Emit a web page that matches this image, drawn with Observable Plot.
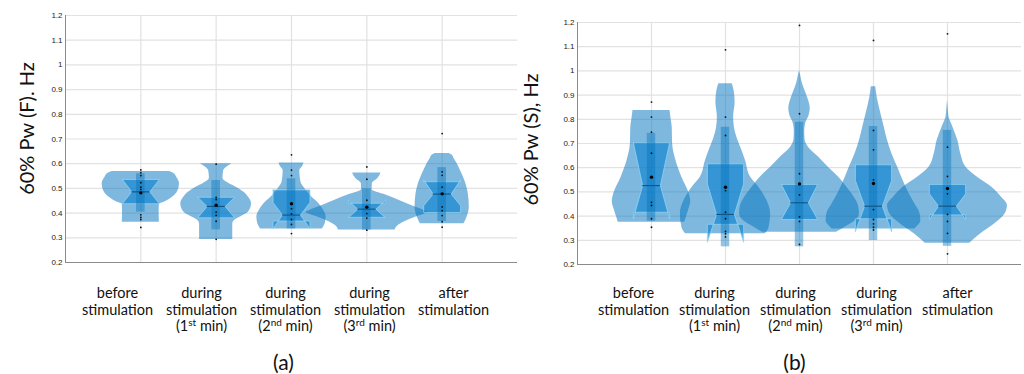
<!DOCTYPE html>
<html><head><meta charset="utf-8">
<script src="https://cdn.jsdelivr.net/npm/d3@7"></script>
<script src="https://cdn.jsdelivr.net/npm/@observablehq/plot@0.6"></script>
<style>
html,body{margin:0;padding:0;background:#fff}
body{width:1024px;height:374px;overflow:hidden;position:relative}
.p{position:absolute}
.p svg{overflow:visible}
</style></head><body>
<div id="pa" class="p" style="left:0;top:0"></div>
<div id="pb" class="p" style="left:512px;top:0"></div>
<div id="la" class="p" style="left:0;top:270px"></div>
<div id="lb" class="p" style="left:512px;top:270px"></div>
<script>
// ---------- data ----------
const categories = ["before\nstimulation", "during\nstimulation\n(1st min)", "during\nstimulation\n(2nd min)", "during\nstimulation\n(3rd min)", "after\nstimulation"];
const yTicks = [0.2, 0.3, 0.4, 0.5, 0.6, 0.7, 0.8, 0.9, 1, 1.1, 1.2];
const panelNames = ["(a)", "(b)"];
const yLabels = ["60% Pw (F). Hz", "60% Pw (S), Hz"];

// violin outlines: [value, half-density] per group, panel (a)
const violinA = [
  [[0.568,0.38],[0.56,0.44],[0.545,0.475],[0.519,0.513],[0.485,0.486],[0.464,0.42],[0.444,0.31],[0.436,0.245],[0.40,0.243],[0.363,0.246]],
  [[0.6,0.21],[0.586,0.14],[0.572,0.1],[0.54,0.09],[0.52,0.17],[0.505,0.265],[0.484,0.37],[0.464,0.43],[0.438,0.47],[0.404,0.43],[0.385,0.33],[0.372,0.25],[0.355,0.22],[0.293,0.22]],
  [[0.603,0.166],[0.59,0.15],[0.572,0.11],[0.527,0.124],[0.494,0.19],[0.465,0.27],[0.438,0.365],[0.41,0.43],[0.385,0.46],[0.36,0.45],[0.336,0.41]],
  [[0.562,0.188],[0.55,0.17],[0.539,0.144],[0.519,0.073],[0.495,0.07],[0.475,0.235],[0.45,0.44],[0.43,0.6],[0.41,0.77],[0.403,0.81],[0.395,0.76],[0.38,0.62],[0.36,0.47],[0.345,0.40],[0.332,0.376]],
  [[0.641,0.09],[0.635,0.13],[0.62,0.16],[0.6,0.2],[0.572,0.243],[0.532,0.30],[0.478,0.347],[0.424,0.36],[0.383,0.33],[0.357,0.29]]
];
// panel (b)
const violinB = [
  [[0.836,0.25],[0.8,0.265],[0.767,0.28],[0.7,0.285],[0.63,0.33],[0.561,0.41],[0.492,0.51],[0.46,0.53],[0.423,0.5],[0.395,0.47],[0.375,0.45]],
  [[0.947,0.09],[0.92,0.115],[0.87,0.13],[0.81,0.11],[0.767,0.12],[0.72,0.16],[0.68,0.21],[0.63,0.27],[0.561,0.34],[0.519,0.45],[0.464,0.56],[0.41,0.61],[0.354,0.59],[0.327,0.54]],
  [[1.002,0.0],[0.975,0.02],[0.947,0.04],[0.91,0.085],[0.87,0.13],[0.845,0.145],[0.816,0.13],[0.785,0.085],[0.75,0.07],[0.715,0.075],[0.685,0.12],[0.643,0.26],[0.602,0.39],[0.561,0.53],[0.519,0.64],[0.478,0.74],[0.44,0.8],[0.41,0.81],[0.38,0.75],[0.355,0.62],[0.333,0.5]],
  [[0.935,0.03],[0.89,0.05],[0.823,0.1],[0.767,0.146],[0.712,0.19],[0.657,0.25],[0.6,0.33],[0.547,0.4],[0.5,0.47],[0.45,0.56],[0.41,0.63],[0.38,0.64],[0.36,0.6],[0.347,0.56]],
  [[0.878,0.0],[0.84,0.01],[0.809,0.02],[0.767,0.074],[0.712,0.14],[0.657,0.18],[0.602,0.25],[0.561,0.405],[0.519,0.6],[0.478,0.73],[0.444,0.81],[0.41,0.78],[0.368,0.64],[0.327,0.45],[0.288,0.3]]
];

// box statistics
const q3A = [0.536, 0.464, 0.494, 0.44, 0.527];
const medA = [0.486, 0.427, 0.392, 0.416, 0.477];
const q1A = [0.438, 0.381, 0.368, 0.383, 0.402];
const notchHiA = [0.536, 0.464, 0.443, 0.451, 0.535];
const notchLoA = [0.438, 0.381, 0.337, 0.381, 0.43];
const whiskHiA = [0.559, 0.532, 0.539, 0.498, 0.584];
const whiskLoA = [0.404, 0.332, 0.336, 0.331, 0.366];
const meanA = [0.482, 0.432, 0.438, 0.424, 0.478];
const pointsA = [
  [0.575, 0.563, 0.552, 0.523, 0.505, 0.496, 0.393, 0.383, 0.374, 0.342],
  [0.598, 0.464, 0.455, 0.404, 0.391, 0.367, 0.294],
  [0.636, 0.574, 0.552, 0.418, 0.397, 0.374, 0.354, 0.317],
  [0.587, 0.537, 0.452, 0.398, 0.38, 0.331],
  [0.722, 0.567, 0.553, 0.505, 0.425, 0.41, 0.39, 0.365, 0.343]
];

const q3B = [0.703, 0.616, 0.531, 0.612, 0.531];
const medB = [0.526, 0.407, 0.455, 0.441, 0.441];
const q1B = [0.416, 0.366, 0.386, 0.389, 0.405];
const notchHiB = [0.703, 0.533, 0.531, 0.547, 0.492];
const notchLoB = [0.389, 0.292, 0.386, 0.335, 0.386];
const whiskHiB = [0.742, 0.767, 0.788, 0.77, 0.754];
const whiskLoB = [0.379, 0.273, 0.273, 0.299, 0.275];
const meanB = [0.561, 0.519, 0.533, 0.535, 0.514];
const pointsB = [
  [0.871, 0.809, 0.747, 0.66, 0.457, 0.444, 0.389, 0.354],
  [1.087, 0.809, 0.733, 0.505, 0.416, 0.389, 0.337, 0.327, 0.314],
  [1.188, 0.823, 0.575, 0.488, 0.397, 0.378, 0.283],
  [1.126, 0.754, 0.674, 0.55, 0.427, 0.386, 0.368, 0.354, 0.343],
  [1.153, 0.685, 0.564, 0.492, 0.407, 0.378, 0.329, 0.244]
];

// ---------- drawing ----------
const BOX_W = 0.245, NOTCH_W = 0.12, BAR_W = 0.057;
const blue = "#0072BD";

function panel(d) {
  const idx = d3.range(categories.length);
  const vRows = d.violin.flatMap((prof, i) =>
    prof.map(([v, hw]) => ({g: i + 1, v, hw})).sort((a, b) => a.v - b.v));
  const boxRows = idx.flatMap(i => {
    const g = i + 1, w = BOX_W, n = NOTCH_W;
    const pts = [
      [-w, d.q3[i]], [-w, d.nHi[i]], [-n, d.med[i]], [-w, d.nLo[i]], [-w, d.q1[i]],
      [w, d.q1[i]], [w, d.nLo[i]], [n, d.med[i]], [w, d.nHi[i]], [w, d.q3[i]], [-w, d.q3[i]]
    ];
    return pts.map(([dx, y]) => ({g, x: g + dx, y}));
  });
  const ptRows = d.points.flatMap((arr, i) => arr.map(v => ({g: i + 1, v})));
  return Plot.plot({
    width: d.width, height: 270,
    marginLeft: 65, marginRight: 0, marginTop: d.top, marginBottom: d.bottom,
    style: {background: "transparent", overflow: "visible"},
    x: {domain: [0, 6], axis: null},
    y: {domain: [0.2, 1.2], axis: null},
    marks: [
      Plot.ruleY(yTicks, {stroke: "#e2e2e2", strokeWidth: 1.2}),
      Plot.ruleX(idx.map(i => i + 1), {stroke: "#e2e2e2", strokeWidth: 1.2}),
      Plot.ruleY([0.2], {stroke: "#8a8a8a", strokeWidth: 1}),
      Plot.ruleX([0], {stroke: "#8a8a8a", strokeWidth: 1}),
      Plot.areaX(vRows, {y: "v", x1: r => r.g - r.hw, x2: r => r.g + r.hw, z: "g",
        fill: blue, fillOpacity: 0.5, curve: "monotone-y"}),
      Plot.line(boxRows, {x: "x", y: "y", z: "g", fill: "#0a7fcf", fillOpacity: 0.62,
        stroke: "#8fd8f8", strokeWidth: 0.8, strokeOpacity: 0.9, curve: "linear"}),
      Plot.rect(idx, {x1: i => i + 1 - BAR_W, x2: i => i + 1 + BAR_W,
        y1: i => d.wLo[i], y2: i => d.wHi[i], fill: blue, fillOpacity: 0.42}),
      Plot.ruleY(idx, {y: i => d.med[i], x1: i => i + 1 - NOTCH_W, x2: i => i + 1 + NOTCH_W,
        stroke: "#0b4a78", strokeWidth: 1.1, strokeOpacity: 0.85}),
      Plot.dot(ptRows, {x: "g", y: "v", r: 0.9, fill: "#111", stroke: null}),
      Plot.dot(idx, {x: i => i + 1, y: i => d.mean[i], r: 1.7, fill: "#000", stroke: null}),
      Plot.axisY(yTicks, {tickSize: 0, tickPadding: 3, fontSize: 8, fill: "#222",
        fontFamily: "Liberation Sans, Arial, sans-serif", label: null,
        tickFormat: v => String(+v.toFixed(1))}),
      Plot.text([d.ylabel], {frameAnchor: "left", rotate: -90, dx: d.ldx, dy: d.ldy,
        textAnchor: "middle", lineAnchor: "middle",
        fontSize: 20, fontFamily: "Lato, sans-serif", fill: "#111"})
    ]
  });
}

function labels(d) {
  const svg = Plot.plot({
    width: d.width, height: 104,
    marginLeft: d.ml, marginRight: 0, marginTop: 15, marginBottom: 0,
    style: {background: "transparent", overflow: "visible"},
    x: {type: "point", domain: categories, range: d.range, padding: 0, align: 0.5, axis: null},
    marks: [
      Plot.text(categories, {x: c => c, frameAnchor: "top", lineAnchor: "top",
        lineHeight: 1.17, fontSize: 14.5, fontFamily: "Lato, sans-serif", fill: "#111"}),
      Plot.text([d.name], {frameAnchor: "top", lineAnchor: "top", dy: 70,
        fontSize: 21, fontFamily: "Lato, sans-serif", fill: "#111"})
    ]
  });
  // superscript ordinal suffixes
  svg.querySelectorAll("tspan").forEach(t => {
    const m = t.textContent.match(/^\((\d)(st|nd|rd) min\)$/);
    if (!m) return;
    t.textContent = "";
    t.appendChild(document.createTextNode("(" + m[1]));
    const sup = document.createElementNS("http://www.w3.org/2000/svg", "tspan");
    sup.setAttribute("font-size", "10");
    sup.setAttribute("dy", "-5");
    sup.textContent = m[2];
    t.appendChild(sup);
    const rest = document.createElementNS("http://www.w3.org/2000/svg", "tspan");
    rest.setAttribute("dy", "5");
    rest.textContent = " min)";
    t.appendChild(rest);
  });
  return svg;
}

document.getElementById("pa").appendChild(panel({
  width: 517, top: 15, bottom: 8, violin: violinA, q3: q3A, med: medA, q1: q1A,
  nHi: notchHiA, nLo: notchLoA, wHi: whiskHiA, wLo: whiskLoA, mean: meanA, points: pointsA,
  ylabel: yLabels[0], ldx: -37.5, ldy: -10.5
}));
document.getElementById("pb").appendChild(panel({
  width: 509, top: 22, bottom: 6, violin: violinB, q3: q3B, med: medB, q1: q1B,
  nHi: notchHiB, nLo: notchLoB, wHi: whiskHiB, wLo: whiskLoB, mean: meanB, points: pointsB,
  ylabel: yLabels[1], ldx: -46, ldy: -4
}));
document.getElementById("la").appendChild(labels({width: 517, ml: 49, range: [116, 453], name: panelNames[0]}));
document.getElementById("lb").appendChild(labels({width: 509, ml: 55, range: [121, 445], name: panelNames[1]}));
</script>
</body></html>
